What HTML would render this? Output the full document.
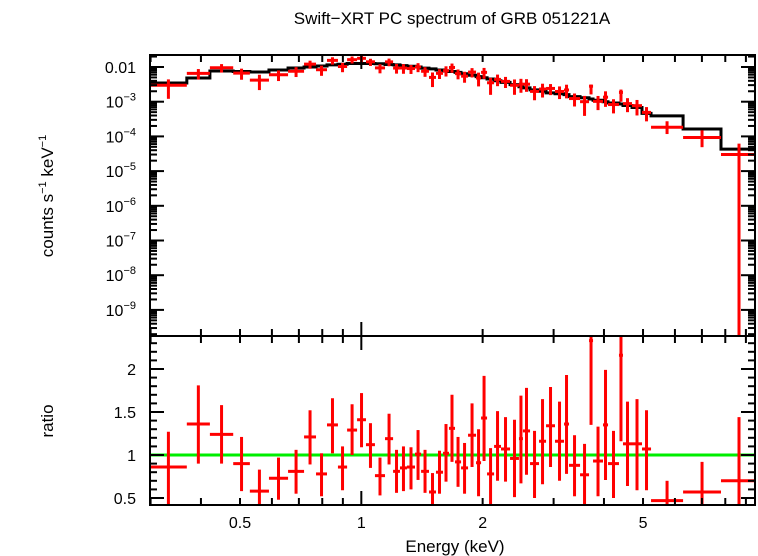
<!DOCTYPE html>
<html><head><meta charset="utf-8"><style>
html,body{margin:0;padding:0;background:#fff;}
svg{display:block;font-family:"Liberation Sans",sans-serif;}
</style></head><body>
<svg id="chart" width="758" height="556" viewBox="0 0 758 556" xmlns="http://www.w3.org/2000/svg">
<defs>
<clipPath id="clipTop"><rect x="150" y="55" width="605" height="281"/></clipPath>
<clipPath id="clipBot"><rect x="150" y="336" width="605" height="169"/></clipPath>
</defs>
<text x="452" y="24" font-size="17" text-anchor="middle">Swift−XRT PC spectrum of GRB 051221A</text>
<text x="455" y="552" font-size="17" text-anchor="middle">Energy (keV)</text>
<text transform="translate(53,196) rotate(-90)" font-size="17" text-anchor="middle">counts s<tspan font-size="11" dy="-7">−1</tspan><tspan dy="7"> keV</tspan><tspan font-size="11" dy="-7">−1</tspan></text>
<text transform="translate(53,421) rotate(-90)" font-size="17" text-anchor="middle">ratio</text>
<g id="gTop"></g>
<g id="gBot"></g>
</svg>
<script>
// energy bin edges (keV)
const binLo = [0.299,0.369,0.421,0.481,0.529,0.590,0.658,0.721,0.772,0.822,0.875,0.922,0.976,1.027,1.081,1.145,1.199,1.247,1.298,1.359,1.407,1.472,1.532,1.595,1.650,1.708,1.768,1.840,1.926,1.982,2.051,2.135,2.221,2.339,2.461,2.518,2.622,2.760,2.873,3.024,3.184,3.276,3.489,3.673,3.758,3.978,4.094,4.358,4.459,4.695,4.971,5.234,6.286,7.806];
const binHi = [0.369,0.421,0.481,0.529,0.590,0.658,0.721,0.772,0.822,0.875,0.922,0.976,1.027,1.081,1.145,1.199,1.247,1.298,1.359,1.407,1.472,1.532,1.595,1.650,1.708,1.768,1.840,1.926,1.982,2.051,2.135,2.221,2.339,2.461,2.518,2.622,2.760,2.873,3.024,3.184,3.276,3.489,3.673,3.758,3.978,4.094,4.358,4.459,4.695,4.971,5.234,6.286,7.806,9.59];
// model (counts/s/keV)
const model = [3.46e-3,4.82e-3,7.67e-3,7.4e-3,7.2e-3,8.2e-3,9.35e-3,0.0100,0.0107,0.0115,0.0120,0.0126,0.0126,0.0126,0.0124,0.0118,0.0115,0.0110,0.0105,0.0100,0.0093,0.0088,0.0082,0.0077,0.0074,0.0070,0.0064,0.0058,0.0053,0.0049,0.0045,0.0040,0.0036,0.0031,0.0027,0.0025,0.0022,0.0020,0.0018,0.0017,0.0016,0.0014,0.0013,0.0012,0.0011,0.0010,9.2e-4,8.6e-4,7.8e-4,6.8e-4,4.6e-4,3.9e-4,1.63e-4,4.3e-5];
// data/model ratio with error bounds
const ratio = [0.86,1.36,1.24,0.90,0.58,0.73,0.81,1.21,0.78,1.35,0.86,1.29,1.41,1.12,0.76,1.19,0.81,0.85,0.86,1.01,0.81,0.57,0.80,1.02,1.31,0.92,0.85,1.23,0.91,1.43,0.78,1.10,1.07,0.96,1.19,1.28,0.90,1.16,1.34,1.16,1.36,0.88,0.77,2.33,0.93,1.35,0.90,2.16,1.13,1.13,1.07,0.47,0.57,0.70];
const ratioLo = [0.35,0.90,0.90,0.58,0.30,0.48,0.55,0.89,0.52,1.02,0.59,1.00,1.09,0.85,0.53,0.89,0.56,0.58,0.60,0.71,0.56,0.30,0.55,0.69,0.92,0.63,0.55,0.86,0.52,0.93,0.35,0.70,0.69,0.51,0.67,0.77,0.50,0.66,0.86,0.70,0.78,0.52,0.30,1.35,0.52,0.71,0.50,1.16,0.64,0.59,0.59,0.30,0.30,0.0];
const ratioHi = [1.27,1.81,1.58,1.21,0.83,0.97,1.06,1.52,1.02,1.66,1.10,1.59,1.72,1.37,0.97,1.48,1.06,1.10,1.09,1.29,1.06,0.79,1.05,1.36,1.70,1.21,1.14,1.60,1.30,1.92,1.08,1.51,1.44,1.41,1.69,1.78,1.28,1.65,1.79,1.62,1.93,1.23,1.13,2.6,1.33,1.99,1.28,2.6,1.62,1.65,1.52,0.70,0.92,1.44];
const topTickLabels = ["0.01","10|−3","10|−4","10|−5","10|−6","10|−7","10|−8","10|−9"];
const ratioTicks = [0.5,1,1.5,2];
const xTickLabels = [0.5,1,2,5];

const NS="http://www.w3.org/2000/svg";
const L=150,R=755,T1=55,B1=336,T2=336,B2=505;
const xMin=Math.log10(0.299),xMax=Math.log10(9.48);
const X=e=>L+(Math.log10(e)-xMin)/(xMax-xMin)*(R-L);
const yT=v=>67+(-2-Math.log10(v))*34.7;
const yB=r=>455-(r-1)*86;
function el(p,tag,a){const e=document.createElementNS(NS,tag);for(const k in a)e.setAttribute(k,a[k]);p.appendChild(e);return e;}
const gT=document.getElementById('gTop'),gB=document.getElementById('gBot');
const dT=el(gT,'g',{'clip-path':'url(#clipTop)'});
const dB=el(gB,'g',{'clip-path':'url(#clipBot)'});

// model step line
let path='';
for(let i=0;i<model.length;i++){const x1=X(binLo[i]),x2=X(binHi[i]),y=yT(model[i]);path+=(i?'L':'M')+x1+' '+y+'L'+x2+' '+y;}
const ml=el(dT,'path',{d:path,fill:'none',stroke:'#000','stroke-width':3});


// green unity line
const gl=el(dB,'line',{x1:L,x2:R,y1:yB(1),y2:yB(1),stroke:'#00ee00','stroke-width':3});



for(let i=0;i<model.length;i++){
  const x1=X(binLo[i]),x2=X(binHi[i]),xc=X(Math.sqrt(binLo[i]*binHi[i]));
  const v=model[i]*ratio[i],vlo=model[i]*ratioLo[i],vhi=model[i]*ratioHi[i];
  const g=el(dT,'g',{stroke:'#f00','stroke-width':3});
  
  
  el(g,'line',{x1:x1,x2:x2,y1:yT(v),y2:yT(v)});
  el(g,'line',{x1:xc,x2:xc,y1:vlo>0?yT(vlo):B1+5,y2:yT(vhi)});
  const g2=el(dB,'g',{stroke:'#f00','stroke-width':3});
  
  
  el(g2,'line',{x1:x1,x2:x2,y1:yB(ratio[i]),y2:yB(ratio[i])});
  el(g2,'line',{x1:xc,x2:xc,y1:yB(ratioLo[i]),y2:yB(ratioHi[i])});
}

// frames
for(const [t,b,g] of [[T1,B1,gT],[T2,B2,gB]]){
  const f=el(g,'rect',{x:L,y:t,width:R-L,height:b-t,fill:'none',stroke:'#000','stroke-width':2});
  
  
}
// x ticks
const ax=el(gB,'g',{stroke:'#000','stroke-width':2});


const minors=[0.3,0.4,0.5,0.6,0.7,0.8,0.9,1,2,3,4,5,6,7,8,9];
for(const e of minors){
  const x=X(e),len=(e===1)?14:7;
  for(const [t,b] of [[T1,B1],[T2,B2]]){
    el(ax,'line',{x1:x,x2:x,y1:t,y2:t+len});
    el(ax,'line',{x1:x,x2:x,y1:b,y2:b-len});
  }
}
for(const e of xTickLabels){
  const t=el(gB,'text',{x:X(e),y:528,'font-size':16,'text-anchor':'middle',stroke:'none'});
  t.textContent=String(e);
  
  
}
// top y ticks
const ay=el(gT,'g',{stroke:'#000','stroke-width':2});


for(let d=-1;d>=-10;d--){
  for(let m=1;m<10;m++){
    const v=m*Math.pow(10,d),y=yT(v);
    if(y<T1||y>B1)continue;
    const len=m===1?14:7;
    el(ay,'line',{x1:L,x2:L+len,y1:y,y2:y});
    el(ay,'line',{x1:R,x2:R-len,y1:y,y2:y});
  }
}
topTickLabels.forEach((s,i)=>{
  const y=yT(Math.pow(10,-2-i))+6;
  const t=el(gT,'text',{x:136,y:y,'font-size':16,'text-anchor':'end'});
  
  
  const p=s.split('|');
  if(p.length===1){t.textContent=p[0];}
  else{
    const a=el(t,'tspan',{});a.textContent=p[0];
    const b=el(t,'tspan',{'font-size':11,dy:-7});b.textContent=p[1];
  }
});
// ratio ticks
const ar=el(gB,'g',{stroke:'#000','stroke-width':2});


for(let k=5;k<=23;k++){
  const r=k/10,y=yB(r);if(y<T2||y>B2)continue;
  const len=(k%5===0)?14:7;
  el(ar,'line',{x1:L,x2:L+len,y1:y,y2:y});
  el(ar,'line',{x1:R,x2:R-len,y1:y,y2:y});
}
for(const r of ratioTicks){
  const t=el(gB,'text',{x:136,y:yB(r)+6,'font-size':16,'text-anchor':'end'});
  t.textContent=String(r);
  
  
}
</script>
</body></html>
